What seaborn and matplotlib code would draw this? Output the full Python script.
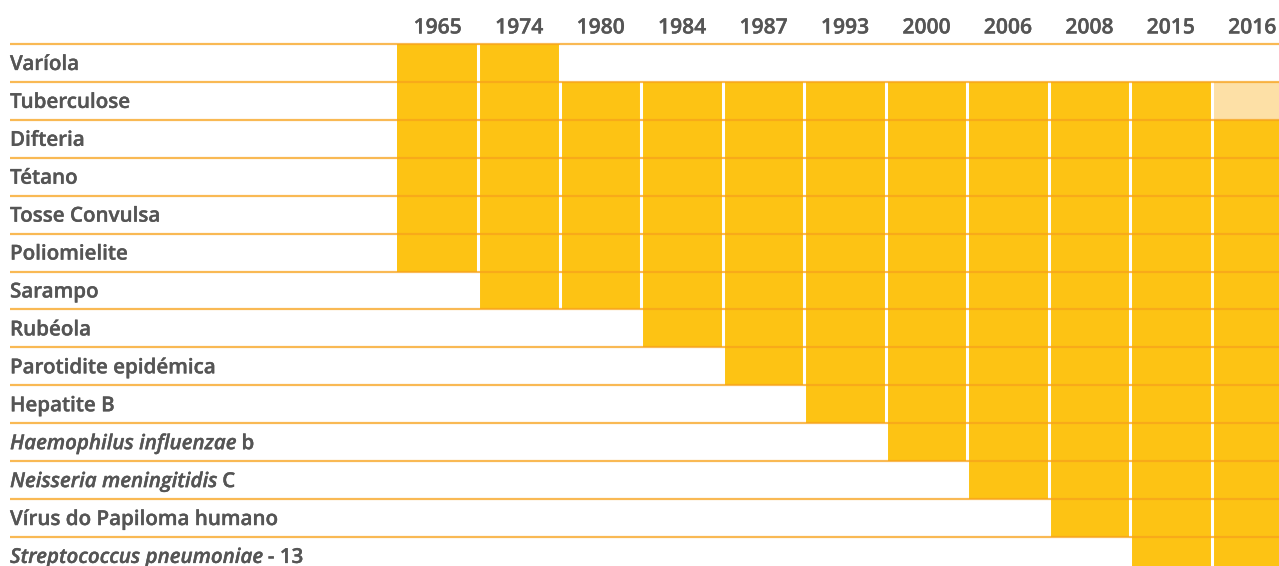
import matplotlib
matplotlib.use("Agg")
import matplotlib.pyplot as plt
import matplotlib.transforms as mtransforms
import matplotlib.patheffects as pe
from matplotlib.colors import ListedColormap
import numpy as np
import pandas as pd
import seaborn as sns

years = ["1965", "1974", "1980", "1984", "1987", "1993", "2000", "2006", "2008", "2015", "2016"]

# label pieces: (italic part, normal part)
diseases = [
    ("", "Varíola"),
    ("", "Tuberculose"),
    ("", "Difteria"),
    ("", "Tétano"),
    ("", "Tosse Convulsa"),
    ("", "Poliomielite"),
    ("", "Sarampo"),
    ("", "Rubéola"),
    ("", "Parotidite epidémica"),
    ("", "Hepatite B"),
    ("Haemophilus influenzae", " b"),
    ("Neisseria meningitidis", " C"),
    ("", "Vírus do Papiloma humano"),
    ("Streptococcus pneumoniae", " - 13"),
]

# 0 = not in programme, 1 = partial, 2 = in programme
status = [
    [2, 2, 0, 0, 0, 0, 0, 0, 0, 0, 0],
    [2, 2, 2, 2, 2, 2, 2, 2, 2, 2, 1],
    [2, 2, 2, 2, 2, 2, 2, 2, 2, 2, 2],
    [2, 2, 2, 2, 2, 2, 2, 2, 2, 2, 2],
    [2, 2, 2, 2, 2, 2, 2, 2, 2, 2, 2],
    [2, 2, 2, 2, 2, 2, 2, 2, 2, 2, 2],
    [0, 2, 2, 2, 2, 2, 2, 2, 2, 2, 2],
    [0, 0, 0, 2, 2, 2, 2, 2, 2, 2, 2],
    [0, 0, 0, 0, 2, 2, 2, 2, 2, 2, 2],
    [0, 0, 0, 0, 0, 2, 2, 2, 2, 2, 2],
    [0, 0, 0, 0, 0, 0, 2, 2, 2, 2, 2],
    [0, 0, 0, 0, 0, 0, 0, 2, 2, 2, 2],
    [0, 0, 0, 0, 0, 0, 0, 0, 2, 2, 2],
    [0, 0, 0, 0, 0, 0, 0, 0, 0, 2, 2],
]

sns.set_style("white")
plt.rcParams["font.family"] = ["Open Sans", "DejaVu Sans"]

txt = "#555555"
gold = "#FDC314"
fs = 14.8
heavy = [pe.withStroke(linewidth=0.25, foreground=txt)]
W, H = 1279, 566
fig = plt.figure(figsize=(W / 100, H / 100), dpi=100)
ax_left, ax_w = 397 / W, 896 / W
ax_top = 1 - 44 / H
ax_h = 14 * 37.92 / H
ax = fig.add_axes([ax_left, ax_top - ax_h, ax_w, ax_h])

df = pd.DataFrame(status, columns=years, index=[a + b for a, b in diseases])
sns.heatmap(df, ax=ax, cmap=ListedColormap(["white", "#FDE0A6", gold]),
            vmin=-0.5, vmax=2.5, cbar=False, linewidths=0)

# white separators between columns
ax.vlines(np.arange(1, len(years)), 0, len(diseases), color="white", lw=2.2)

# orange row rules across labels and cells
trans = mtransforms.blended_transform_factory(ax.transAxes, ax.transData)
x0 = (10 - 397) / 896
for i in range(len(diseases) + 1):
    ax.plot([x0, 1.05], [i, i], transform=trans, color="#F7A21B", alpha=0.75,
            lw=1.6, clip_on=False, solid_capstyle="butt")

ax.xaxis.tick_top()
ax.set_xticks(np.arange(len(years)) + 0.5)
ax.set_xticklabels(years, fontsize=15.2, fontweight="semibold", color=txt,
                   path_effects=heavy)
ax.tick_params(axis="x", length=0, pad=4)
ax.set_yticks([])
ax.set_xlabel("")
ax.set_ylabel("")
for s in ax.spines.values():
    s.set_visible(False)

for i, (ital, norm) in enumerate(diseases):
    y = i + 0.54
    if ital:
        t = ax.text(x0, y, ital, transform=trans, fontsize=fs, style="italic",
                    fontweight="semibold", color=txt, va="center", ha="left",
                    path_effects=heavy)
        ax.annotate(norm, xy=(1, 0), xycoords=t, va="bottom", ha="left",
                    fontsize=fs, fontweight="semibold", color=txt,
                    path_effects=heavy)
    else:
        ax.text(x0, y, norm, transform=trans, fontsize=fs,
                fontweight="semibold", color=txt, va="center", ha="left",
                path_effects=heavy)

fig.savefig("out.png", dpi=100)
